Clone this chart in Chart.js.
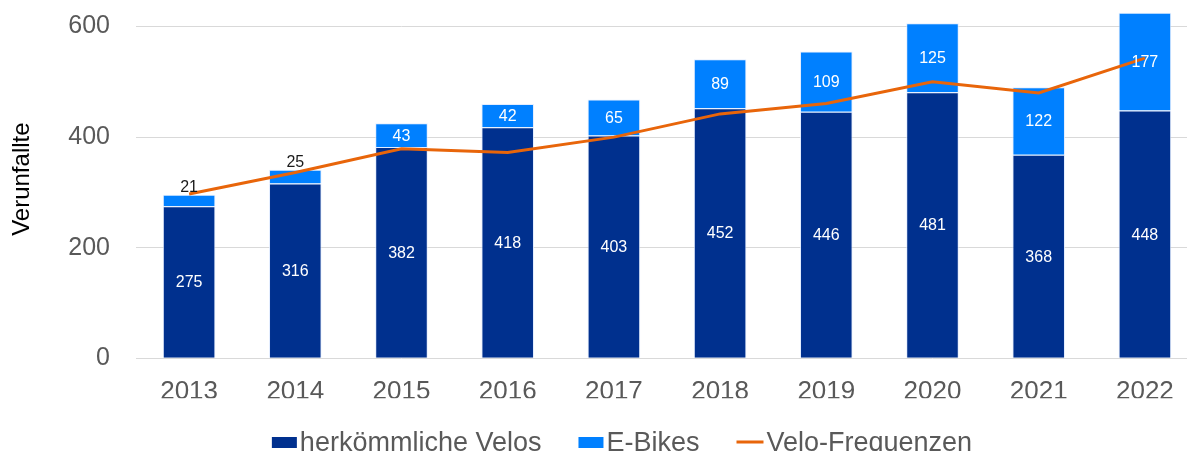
<!DOCTYPE html>
<html>
<head>
<meta charset="utf-8">
<script src="https://cdn.jsdelivr.net/npm/chart.js@4.4.0/dist/chart.umd.min.js"></script>
<style>
  html, body { margin: 0; padding: 0; background: #fff; overflow: hidden; }
  #wrap { position: absolute; left: 0; top: -60px; width: 1200px; height: 540px; }
</style>
</head>
<body>
<div id="wrap"><canvas id="myChart" width="1200" height="540"></canvas></div>
<script>
const years = ["2013", "2014", "2015", "2016", "2017", "2018", "2019", "2020", "2021", "2022"];
const velos = [275, 316, 382, 418, 403, 452, 446, 481, 368, 448];
const eBikes = [21, 25, 43, 42, 65, 89, 109, 125, 122, 177];
const frequenzen = [297, 336, 379, 372, 400, 442, 461, 500, 480, 543];
const yTicks = [0, 200, 400, 600];

const DARK = "#00308e";
const LIGHT = "#0080ff";
const ORANGE = "#e8650a";

// values inside the bars, or above them when the segment is too thin
const barLabels = {
  id: "barLabels",
  afterDatasetsDraw(chart) {
    const ctx = chart.ctx;
    ctx.save();
    ctx.font = "16px 'Liberation Sans', Arial, sans-serif";
    ctx.textAlign = "center";
    ctx.textBaseline = "middle";
    chart.data.datasets.forEach((ds, i) => {
      if (ds.type === "line") return;
      const meta = chart.getDatasetMeta(i);
      meta.data.forEach((bar, j) => {
        const h = bar.base - bar.y;
        if (h > 18) {
          ctx.fillStyle = "#ffffff";
          ctx.fillText(ds.data[j], bar.x, (bar.y + bar.base) / 2 + 1);
        } else {
          ctx.fillStyle = "#1a1a1a";
          ctx.fillText(ds.data[j], bar.x, bar.y - 7);
        }
      });
    });
    ctx.restore();
  }
};

// legend row at the bottom (tight spacing like the original)
const bottomLegend = {
  id: "bottomLegend",
  afterDraw(chart) {
    const ctx = chart.ctx;
    ctx.save();
    ctx.font = "27px 'Liberation Sans', Arial, sans-serif";
    ctx.textBaseline = "middle";
    const items = chart.data.datasets.map(ds => ({
      text: ds.label,
      color: ds.type === "line" ? ds.borderColor : ds.backgroundColor,
      line: ds.type === "line"
    }));
    const boxW = 25, lineW = 27, gap = 3, spacing = 37;
    let total = 0;
    items.forEach((it, k) => {
      it.w = ctx.measureText(it.text).width;
      total += (it.line ? lineW : boxW) + gap + it.w + (k ? spacing : 0);
    });
    let x = 622 - total / 2;
    const y = 502;
    items.forEach(it => {
      if (it.line) {
        ctx.fillStyle = it.color;
        ctx.fillRect(x, y - 1.5, lineW, 3);
        x += lineW + gap;
      } else {
        ctx.fillStyle = it.color;
        ctx.fillRect(x, y - 5, boxW, 11);
        x += boxW + gap;
      }
      ctx.fillStyle = "#595959";
      ctx.fillText(it.text, x, y + 2);
      x += it.w + spacing;
    });
    ctx.restore();
  }
};

const ctx = document.getElementById("myChart").getContext("2d");
new Chart(ctx, {
  data: {
    labels: years,
    datasets: [
      {
        type: "bar",
        label: "herkömmliche Velos",
        data: velos,
        backgroundColor: DARK,
        borderColor: "rgba(220,232,255,0.8)",
        borderWidth: 1,
        stack: "unfaelle",
        order: 1
      },
      {
        type: "bar",
        label: "E-Bikes",
        data: eBikes,
        backgroundColor: LIGHT,
        borderColor: "rgba(220,232,255,0.8)",
        borderWidth: 1,
        stack: "unfaelle",
        order: 1
      },
      {
        type: "line",
        label: "Velo-Frequenzen",
        data: frequenzen,
        borderColor: ORANGE,
        backgroundColor: ORANGE,
        borderWidth: 3,
        pointRadius: 0,
        tension: 0,
        stack: "freq",
        order: 0
      }
    ]
  },
  options: {
    responsive: false,
    animation: false,
    layout: { padding: { left: 4, right: 2, top: 60, bottom: 81.7 } },
    datasets: { bar: { categoryPercentage: 1, barPercentage: 0.495 } },
    plugins: {
      legend: { display: false },
      tooltip: { enabled: false }
    },
    scales: {
      x: {
        stacked: true,
        grid: { display: false },
        border: { display: false },
        ticks: {
          color: "#595959",
          padding: 10,
          font: { family: "'Liberation Sans', Arial, sans-serif", size: 26 }
        },
        afterFit(scale) { scale.height = 40; }
      },
      y: {
        stacked: true,
        min: 0,
        max: 648,
        border: { display: false },
        grid: { color: "#d9d9d9", lineWidth: 1, drawTicks: false },
        ticks: {
          stepSize: 200,
          color: "#595959",
          padding: 26,
          font: { family: "'Liberation Sans', Arial, sans-serif", size: 25 }
        },
        afterBuildTicks(scale) {
          scale.ticks = yTicks.map(v => ({ value: v }));
        },
        afterFit(scale) { scale.width = 132; },
        title: {
          display: true,
          text: "Verunfallte",
          color: "#000000",
          font: { family: "'Liberation Sans', Arial, sans-serif", size: 24 }
        }
      }
    }
  },
  plugins: [barLabels, bottomLegend]
});
</script>
</body>
</html>
